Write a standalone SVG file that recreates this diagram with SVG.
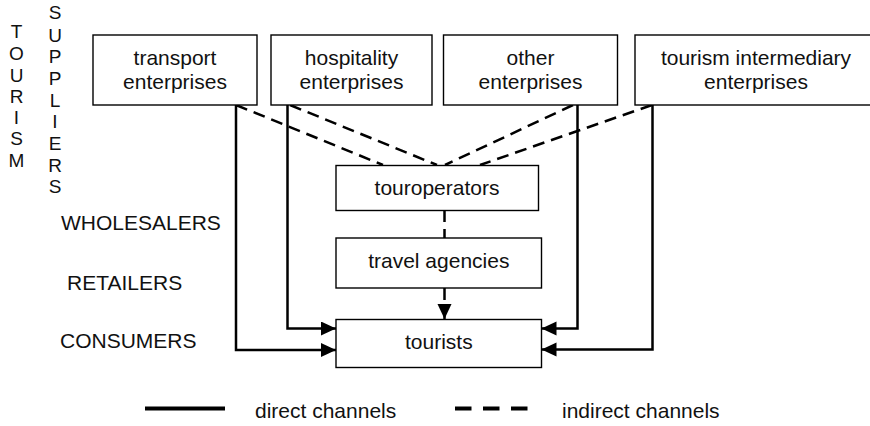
<svg xmlns="http://www.w3.org/2000/svg" width="870" height="426" viewBox="0 0 870 426">
<defs>
<style>
.box{fill:#fff;stroke:#000;stroke-width:1.4}
.t{font-family:"Liberation Sans",Arial,sans-serif;font-size:21px;fill:#111;text-anchor:middle}
.l{font-family:"Liberation Sans",Arial,sans-serif;font-size:21px;fill:#111}
.v{font-family:"Liberation Sans",Arial,sans-serif;font-size:19px;fill:#111;text-anchor:middle}
.s{fill:none;stroke:#000;stroke-width:2.5}
.d{fill:none;stroke:#000;stroke-width:2.5;stroke-dasharray:12 7}
</style>
<marker id="ah" markerUnits="userSpaceOnUse" markerWidth="16" markerHeight="15" refX="15" refY="7" orient="auto">
<path d="M0,0 L15,7 L0,14 z" fill="#000"/>
</marker>
</defs>
<rect width="870" height="426" fill="#fff"/>

<g id="labels">
<text class="v"><tspan x="16.5" y="38">T</tspan><tspan x="16.5" y="60">O</tspan><tspan x="16.5" y="81.5">U</tspan><tspan x="16.5" y="103">R</tspan><tspan x="16.5" y="124">I</tspan><tspan x="16.5" y="145">S</tspan><tspan x="16.5" y="166.5">M</tspan></text>
<text class="v"><tspan x="55" y="19">S</tspan><tspan x="55" y="41.5">U</tspan><tspan x="55" y="63">P</tspan><tspan x="55" y="85">P</tspan><tspan x="55" y="106.5">L</tspan><tspan x="55" y="128">I</tspan><tspan x="55" y="150">E</tspan><tspan x="55" y="171.5">R</tspan><tspan x="55" y="193">S</tspan></text>
<text class="l" x="61" y="230">WHOLESALERS</text>
<text class="l" x="67" y="290">RETAILERS</text>
<text class="l" x="60" y="348">CONSUMERS</text>
</g>

<g id="connectors">
<path class="d" d="M236,105 L383,165"/>
<path class="d" d="M290,105 L437,165"/>
<path class="d" d="M573,105 L445,165"/>
<path class="d" d="M652,105 L480,165"/>
<path class="d" d="M444.5,210 L444.5,238"/>
<path class="d" d="M444.5,288 L444.5,319" marker-end="url(#ah)"/>
<path class="s" d="M236,105 L236,350 L336,350" marker-end="url(#ah)"/>
<path class="s" d="M287.5,105 L287.5,328.5 L336,328.5" marker-end="url(#ah)"/>
<path class="s" d="M577.5,105 L577.5,328.5 L541.5,328.5" marker-end="url(#ah)"/>
<path class="s" d="M652.5,105 L652.5,349.5 L541.5,349.5" marker-end="url(#ah)"/>
</g>

<g id="transport">
<rect class="box" x="93" y="35" width="164" height="70"/>
<text class="t" x="175" y="65">transport</text>
<text class="t" x="175" y="89">enterprises</text>
</g>
<g id="hospitality">
<rect class="box" x="271" y="35" width="161" height="70"/>
<text class="t" x="351.5" y="65">hospitality</text>
<text class="t" x="351.5" y="89">enterprises</text>
</g>
<g id="other">
<rect class="box" x="443.5" y="35" width="174" height="70"/>
<text class="t" x="530.5" y="65">other</text>
<text class="t" x="530.5" y="89">enterprises</text>
</g>
<g id="intermediary">
<rect class="box" x="635" y="35" width="245" height="70"/>
<text class="t" x="756" y="65">tourism intermediary</text>
<text class="t" x="756" y="89">enterprises</text>
</g>
<g id="touroperators">
<rect class="box" x="336" y="165.5" width="202.5" height="45"/>
<text class="t" x="437" y="195">touroperators</text>
</g>
<g id="travelagencies">
<rect class="box" x="336" y="238" width="205.5" height="50"/>
<text class="t" x="438.8" y="267.5">travel agencies</text>
</g>
<g id="tourists">
<rect class="box" x="336" y="319.5" width="205.5" height="48"/>
<text class="t" x="438.8" y="348.5">tourists</text>
</g>

<g id="legend">
<line x1="145" y1="408.5" x2="225" y2="408.5" stroke="#000" stroke-width="4"/>
<text class="l" x="255" y="418">direct channels</text>
<line x1="455" y1="408.5" x2="528" y2="408.5" stroke="#000" stroke-width="4" stroke-dasharray="16.5 11.5"/>
<text class="l" x="562" y="418">indirect channels</text>
</g>
</svg>
